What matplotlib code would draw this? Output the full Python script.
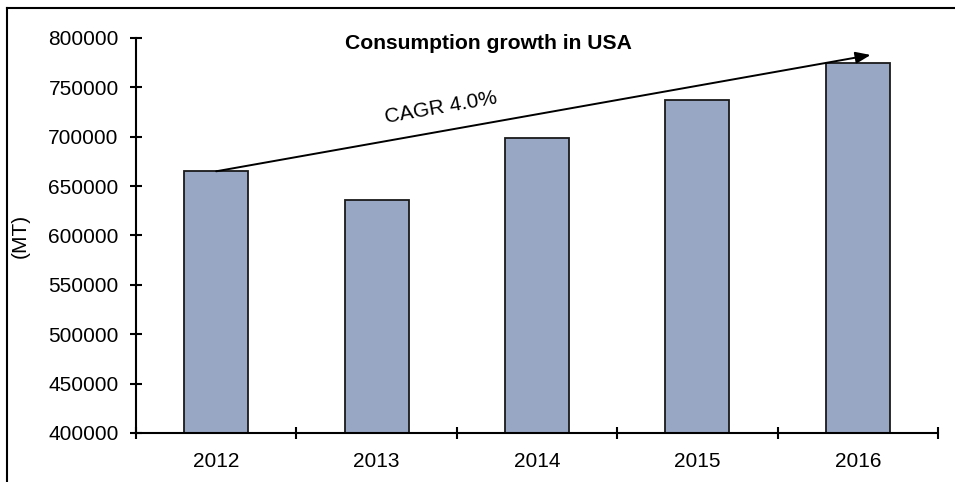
import matplotlib
matplotlib.use('Agg')
import matplotlib.pyplot as plt
from matplotlib.lines import Line2D

plt.rcParams['font.family'] = ['Liberation Sans', 'DejaVu Sans']

years = ['2012', '2013', '2014', '2015', '2016']
consumption = [665000, 636000, 699000, 737000, 775000]
cagr_label = 'CAGR 4.0%'

fig = plt.figure(figsize=(9.55, 4.82), dpi=100)
ax = fig.add_axes([0.1424, 0.1017, 0.8398, 0.8195])

x = range(len(years))
ax.bar(x, consumption, width=0.4, color='#98A7C4', edgecolor='#1a1a1a', linewidth=1.3, zorder=2)

ax.set_xlim(-0.5, len(years) - 0.5)
ax.set_ylim(400000, 800000)
ax.set_yticks(range(400000, 800001, 50000))
ax.set_xticks(list(x))
ax.set_xticklabels(years)
ax.set_xticks([i - 0.5 for i in range(len(years) + 1)], minor=True)

ax.tick_params(axis='y', direction='inout', length=9, width=1.5, labelsize=15, pad=8)
ax.tick_params(axis='x', which='major', length=0, labelsize=15, pad=14)
ax.tick_params(axis='x', which='minor', direction='inout', length=9, width=1.5)

for side in ['top', 'right']:
    ax.spines[side].set_visible(False)
for side in ['left', 'bottom']:
    ax.spines[side].set_linewidth(1.5)

ax.set_ylabel('(MT)', fontsize=15)
ax.yaxis.set_label_coords(-0.132, 0.5)

ax.text(0.439, 0.987, 'Consumption growth in USA', transform=ax.transAxes,
        ha='center', va='center', fontsize=15.2, fontweight='bold')

# trend arrow from the first bar top to just above the last bar
ax.annotate('', xy=(len(years) - 1 + 0.08, consumption[-1] + 7800),
            xytext=(0, consumption[0]),
            arrowprops=dict(arrowstyle='-|>,head_length=0.9,head_width=0.35',
                            color='black', lw=1.4, shrinkA=0, shrinkB=0), zorder=3)
ax.text(1.4, 729000, cagr_label, fontsize=15, rotation=10,
        ha='center', va='center', rotation_mode='anchor')

# frame lines along the top and left of the figure
fig.add_artist(Line2D([7 / 955, 7 / 955], [0, 1 - 8 / 482], color='black', lw=1.5))
fig.add_artist(Line2D([7 / 955, 1], [1 - 8 / 482, 1 - 8 / 482], color='black', lw=1.5))

fig.savefig('out.png', dpi=100)
